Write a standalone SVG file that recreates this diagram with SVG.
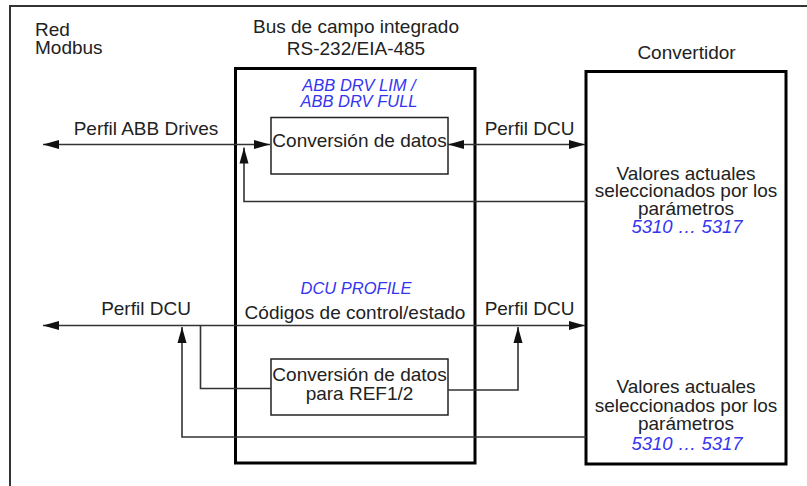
<svg xmlns="http://www.w3.org/2000/svg" width="807" height="486" viewBox="0 0 807 486">
<style>
  text { font-family: "Liberation Sans", Arial, sans-serif; font-size: 19px; fill: #222; }
  .c { text-anchor: middle; }
  .blue { fill: #3535f0; font-style: italic; font-size: 16.5px; }
  .num { font-size: 18.5px; }
  .thick { fill: none; stroke: #000; stroke-width: 3; }
  .thin { fill: none; stroke: #222; stroke-width: 1.5; }
  .conn { fill: none; stroke: #333; stroke-width: 1.6; }
</style>
<defs>
  <marker id="arr" markerUnits="userSpaceOnUse" markerWidth="16" markerHeight="10" refX="16" refY="5" orient="auto-start-reverse">
    <path d="M0,0.5 L16,5 L0,9.5 z" fill="#111"/>
  </marker>
</defs>
<rect width="807" height="486" fill="#fff"/>
<g id="frame">
  <path d="M10,490 V6 H807" fill="none" stroke="#333" stroke-width="2"/>
</g>
<g id="red-modbus">
  <text x="35" y="36">Red</text>
  <text x="35" y="54">Modbus</text>
</g>
<g id="bus">
  <text class="c" x="356" y="33">Bus de campo integrado</text>
  <text class="c" x="356" y="55">RS-232/EIA-485</text>
  <rect class="thick" x="235.5" y="68.5" width="239.5" height="394.5"/>
  <text class="c blue" x="359" y="90.5">ABB DRV LIM /</text>
  <text class="c blue" x="359" y="107">ABB DRV FULL</text>
  <text class="c blue" x="356" y="294">DCU PROFILE</text>
  <text class="c" x="355" y="318.5">Códigos de control/estado</text>
</g>
<g id="conv1">
  <rect class="thin" x="271" y="117.5" width="177" height="56.5"/>
  <text class="c" x="359.5" y="146.5">Conversión de datos</text>
</g>
<g id="conv2">
  <rect class="thin" x="271" y="359" width="177" height="56"/>
  <text class="c" x="359.5" y="381">Conversión de datos</text>
  <text class="c" x="359.5" y="400">para REF1/2</text>
</g>
<g id="convertidor">
  <text class="c" x="686.5" y="59">Convertidor</text>
  <rect class="thick" x="586" y="71.5" width="200" height="392.5"/>
  <text class="c" x="686" y="180">Valores actuales</text>
  <text class="c" x="686" y="197">seleccionados por los</text>
  <text class="c" x="686" y="215">parámetros</text>
  <text class="c blue num" x="687" y="233">5310 … 5317</text>
  <text class="c" x="686" y="393">Valores actuales</text>
  <text class="c" x="686" y="411.5">seleccionados por los</text>
  <text class="c" x="686" y="430">parámetros</text>
  <text class="c blue num" x="687" y="450">5310 … 5317</text>
</g>
<g id="connectors">
  <path class="conn" d="M43,144.5 H270" marker-start="url(#arr)" marker-end="url(#arr)"/>
  <path class="conn" d="M448,144.5 H585" marker-start="url(#arr)" marker-end="url(#arr)"/>
  <path class="conn" d="M586,201.5 H244 V147.5" marker-end="url(#arr)"/>
  <path class="conn" d="M43,325.5 H585" marker-start="url(#arr)" marker-end="url(#arr)"/>
  <path class="conn" d="M200.5,325.5 V388.5 H271"/>
  <path class="conn" d="M448,390 H518 V327" marker-end="url(#arr)"/>
  <path class="conn" d="M586,437 H182 V327" marker-end="url(#arr)"/>
</g>
<g id="labels">
  <text class="c" x="146" y="135">Perfil ABB Drives</text>
  <text class="c" x="529.5" y="135">Perfil DCU</text>
  <text class="c" x="146" y="315">Perfil DCU</text>
  <text class="c" x="529.5" y="315">Perfil DCU</text>
</g>
</svg>
